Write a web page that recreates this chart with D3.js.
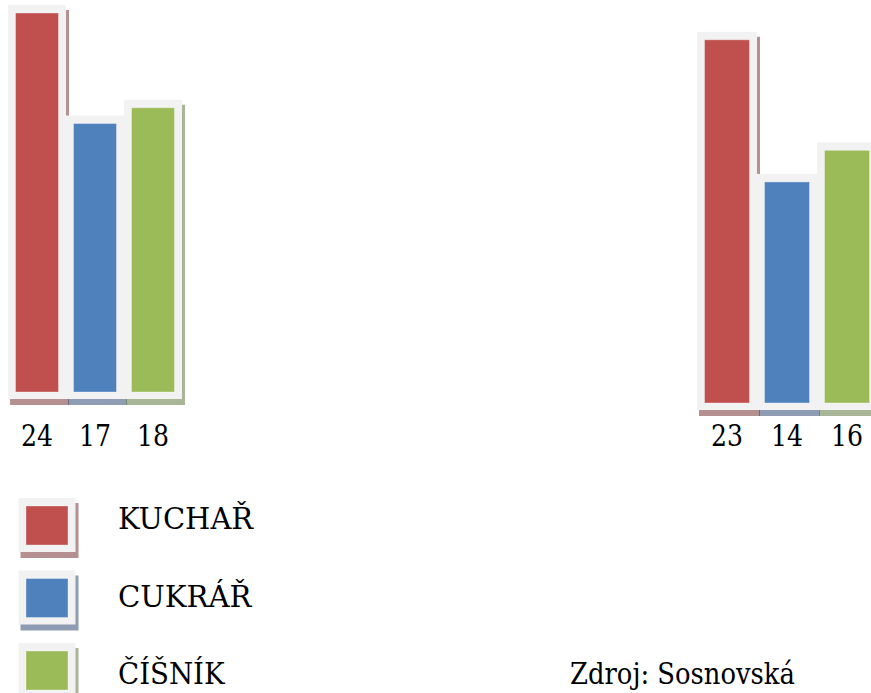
<!DOCTYPE html>
<html>
<head>
<meta charset="utf-8">
<script src="https://cdn.jsdelivr.net/npm/d3@7"></script>
<style>
  html, body { margin: 0; padding: 0; background: #ffffff; }
  svg { display: block; }
</style>
</head>
<body>
<svg id="chart" width="871" height="693"></svg>
<script>
// Professions shown in each group, in drawing order
const series = ["KUCHAŘ", "CUKRÁŘ", "ČÍŠNÍK"];
const valuesFirst = [24, 17, 18];
const valuesSecond = [23, 14, 16];
const source = "Zdroj: Sosnovská";

// Styling
const fills = ["#C0504D", "#4F81BD", "#9BBB59"];
const shadowFills = ["#783535", "#314d77", "#617840"];
const frameFill = "#F2F2F2";
const drawFont = "'DejaVu Serif Condensed', 'DejaVu Serif', serif";
const metricFont = "'Liberation Serif', 'Times New Roman', serif";
const drawSize = 30;
const metricSize = 32;

const svg = d3.select("#chart");

// Width a caption takes in a Times-metric face; used to set textLength
function metricWidth(str) {
  const t = svg.append("text")
    .style("font-family", metricFont)
    .style("font-size", metricSize + "px")
    .text(str);
  const w = t.node().getComputedTextLength();
  t.remove();
  return w;
}

function label(sel) {
  sel.style("font-family", drawFont)
    .style("font-size", drawSize + "px")
    .attr("fill", "#000")
    .each(function () {
      const w = metricWidth(this.textContent);
      if (w > 0) {
        d3.select(this)
          .attr("textLength", w)
          .attr("lengthAdjust", "spacingAndGlyphs");
      }
    });
  return sel;
}

// Each group sits in its own horizontal span with its own baseline
const panels = [
  { values: valuesFirst, range: [8, 182], base: 392 },
  { values: valuesSecond, range: [697, 877], base: 403 }
];

const height = d3.scaleLinear().domain([0, 24]).range([0, 379]);
const padX = 7.5, padTop = 8, padBottom = 7;

function drawBox(g, x, y, w, h, i) {
  // soft drop shadow, then light frame, then coloured body
  g.append("rect")
    .attr("x", x - padX + 2).attr("y", y - padTop + 5)
    .attr("width", w + 2 * padX + 1).attr("height", h + padTop + padBottom + 1)
    .attr("fill", shadowFills[i]).attr("opacity", 0.55);
  return [
    () => g.append("rect")
      .attr("x", x - padX).attr("y", y - padTop)
      .attr("width", w + 2 * padX).attr("height", h + padTop + padBottom)
      .attr("fill", frameFill),
    () => g.append("rect")
      .attr("x", x).attr("y", y)
      .attr("width", w).attr("height", h)
      .attr("fill", fills[i])
      .attr("stroke", "rgba(255,255,255,0.35)").attr("stroke-width", 1)
  ];
}

panels.forEach(p => {
  const x = d3.scaleBand().domain(series).range(p.range).padding(0);
  const g = svg.append("g");
  const bw = x.bandwidth() - 2 * padX;
  const later = [];
  p.values.forEach((v, i) => {
    const top = p.base - height(v);
    later.push(...drawBox(g, x(series[i]) + padX, top, bw, height(v), i));
  });
  later.forEach(f => f());

  g.selectAll("text.value")
    .data(p.values)
    .join("text")
    .attr("class", "value")
    .text(d => d)
    .attr("x", (d, i) => x(series[i]) + x.bandwidth() / 2)
    .attr("y", 446)
    .attr("text-anchor", "middle")
    .call(label);
});

// Legend: swatch rows and their captions
const legendRow = d3.scalePoint().domain(series).range([506, 651]);
const legendText = d3.scalePoint().domain(series).range([529, 684]);
const legend = svg.append("g");
const legendLater = [];
series.forEach((s, i) => {
  legendLater.push(...drawBox(legend, 26, legendRow(s), 42, 39, i));
});
legendLater.forEach(f => f());
legend.selectAll("text.caption")
  .data(series)
  .join("text")
  .attr("class", "caption")
  .text(d => d)
  .attr("x", 118)
  .attr("y", d => legendText(d))
  .call(label);

svg.append("text")
  .text(source)
  .attr("x", 570).attr("y", 684)
  .call(label);
</script>
</body>
</html>
